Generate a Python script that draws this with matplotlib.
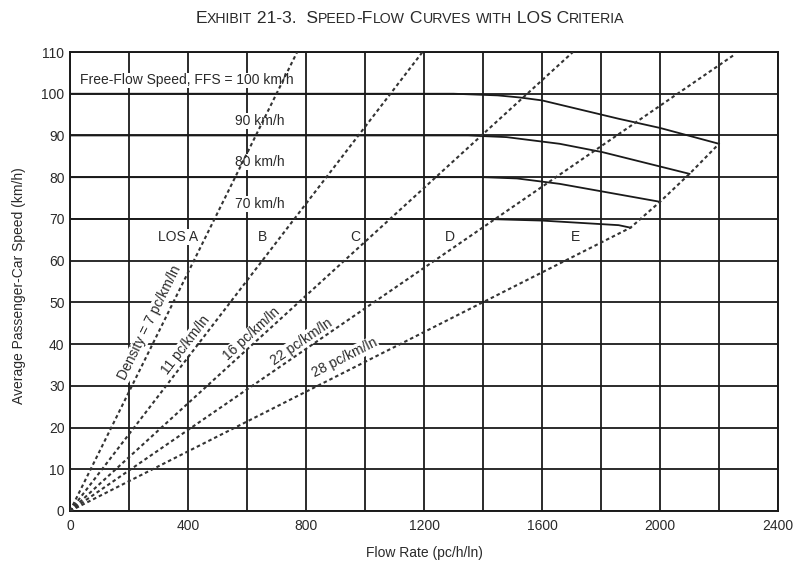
import numpy as np
import matplotlib
matplotlib.use("Agg")
import matplotlib.pyplot as plt

plt.rcParams["font.family"] = ["Liberation Sans Narrow", "Liberation Sans", "DejaVu Sans"]

TITLE = "Exhibit 21-3.  Speed-Flow Curves with LOS Criteria"

# ---- speed-flow curves ----
curve_labels = ["Free-Flow Speed, FFS = 100 km/h", "90 km/h", "80 km/h", "70 km/h"]
flow_100 = [0, 1300, 1450, 1525, 1600, 1860, 2000, 2200]
speed_100 = [100, 100, 99.6, 99.1, 98.4, 94.0, 91.8, 88.0]
flow_90 = [0, 1350, 1480, 1660, 1805, 2100]
speed_90 = [90, 90, 89.6, 88.0, 86.0, 80.8]
flow_80 = [0, 1400, 1515, 1660, 2000]
speed_80 = [80, 80, 79.7, 78.4, 74.1]
flow_70 = [0, 1400, 1600, 1860, 1900]
speed_70 = [70, 70, 69.6, 68.5, 67.9]

# ---- density lines from the origin (far end of each line) ----
density_labels = ["Density = 7 pc/km/ln", "11 pc/km/ln", "16 pc/km/ln", "22 pc/km/ln"]
density_end_flow = [770, 1195, 1705, 2255]
density_end_speed = [110, 110, 110, 109.5]

# LOS E boundary: 28 pc/km/ln, then through the capacity points
e_label = "28 pc/km/ln"
e_flow = [0, 1900, 2000, 2100, 2200]
e_speed = [0, 67.9, 74.1, 80.8, 88.0]

los_labels = ["LOS A", "B", "C", "D", "E"]

x_ticks = [0, 400, 800, 1200, 1600, 2000, 2400]
y_ticks = [0, 10, 20, 30, 40, 50, 60, 70, 80, 90, 100, 110]

INK = "#1a1a1a"
TXT = "#2a2a2a"

fig = plt.figure(figsize=(8.04, 5.69), dpi=100)
ax = fig.add_axes([70 / 804, 1 - 511 / 569, 708 / 804, 459 / 569])

ax.set_xlim(0, 2400)
ax.set_ylim(0, 110)
ax.set_xticks(x_ticks)
ax.set_xticks(np.arange(0, 2401, 200), minor=True)
ax.set_yticks(y_ticks)
ax.tick_params(which="both", length=0, labelsize=10, colors=TXT)
ax.tick_params(axis="x", pad=6)
ax.tick_params(axis="y", pad=4)
ax.set_axisbelow(True)
ax.grid(which="both", color=INK, lw=1.3)
for s in ax.spines.values():
    s.set_color(INK)
    s.set_linewidth(1.4)

# speed-flow curves
for fl, sp in [(flow_100, speed_100), (flow_90, speed_90), (flow_80, speed_80), (flow_70, speed_70)]:
    ax.plot(fl, sp, color=INK, lw=1.3, zorder=3)

# density lines
dash = dict(color="#333333", lw=1.5, linestyle=(0, (1.7, 1.4)), zorder=5)
for fe, se in zip(density_end_flow, density_end_speed):
    ax.plot([0, fe], [0, se], **dash)
ax.plot(e_flow, e_speed, **dash)

box = dict(facecolor="white", edgecolor="none", pad=0.6)
tkw = dict(fontsize=10, color=TXT, zorder=4, bbox=box)

# curve labels
ax.text(34, 103.2, curve_labels[0], ha="left", va="center", **tkw)
for lab, y in zip(curve_labels[1:], [93.4, 83.7, 73.6]):
    ax.text(644, y, lab, ha="center", va="center", **tkw)

# LOS letters
for lab, x in zip(los_labels, [366, 651, 966, 1288, 1712]):
    ax.text(x, 65.6, lab, ha="center", va="center", **tkw)

# density labels, rotated along their lines
lab_pos = [(271, 45.2), (393, 39.7), (617, 42.5), (785, 40.5)]
for lab, (x, y), fe, se in zip(density_labels, lab_pos, density_end_flow, density_end_speed):
    ang = np.degrees(np.arctan2(se, fe))
    ax.text(x, y, lab, ha="center", va="center", rotation=ang,
            rotation_mode="anchor", transform_rotates_text=True, **tkw)
ang = np.degrees(np.arctan2(e_speed[1], e_flow[1]))
ax.text(932, 36.7, e_label, ha="center", va="center", rotation=ang,
        rotation_mode="anchor", transform_rotates_text=True, **tkw)

ax.set_xlabel("Flow Rate (pc/h/ln)", fontsize=10, color=TXT, va="center")
ax.xaxis.set_label_coords(0.5, -0.092)
ax.set_ylabel("Average Passenger-Car Speed (km/h)", fontsize=10, color=TXT, va="center")
ax.yaxis.set_label_coords(-0.072, 0.49)

# title in small caps: lower-case letters drawn as smaller capitals
runs = []
for ch in TITLE:
    small = ch.islower()
    if runs and runs[-1][1] == small:
        runs[-1][0] += ch
    else:
        runs.append([ch, small])
renderer = fig.canvas.get_renderer()
pieces = []
for txt, small in runs:
    t = fig.text(0, 1 - 23 / 569, txt.upper(), fontsize=10.2 if small else 12.6,
                 color=TXT, ha="left", va="baseline")
    pieces.append(t)
widths = [p.get_window_extent(renderer).width for p in pieces]
x0 = 410 - sum(widths) / 2
for p, w in zip(pieces, widths):
    p.set_x(x0 / 804)
    x0 += w

fig.savefig("out.png", dpi=100)
